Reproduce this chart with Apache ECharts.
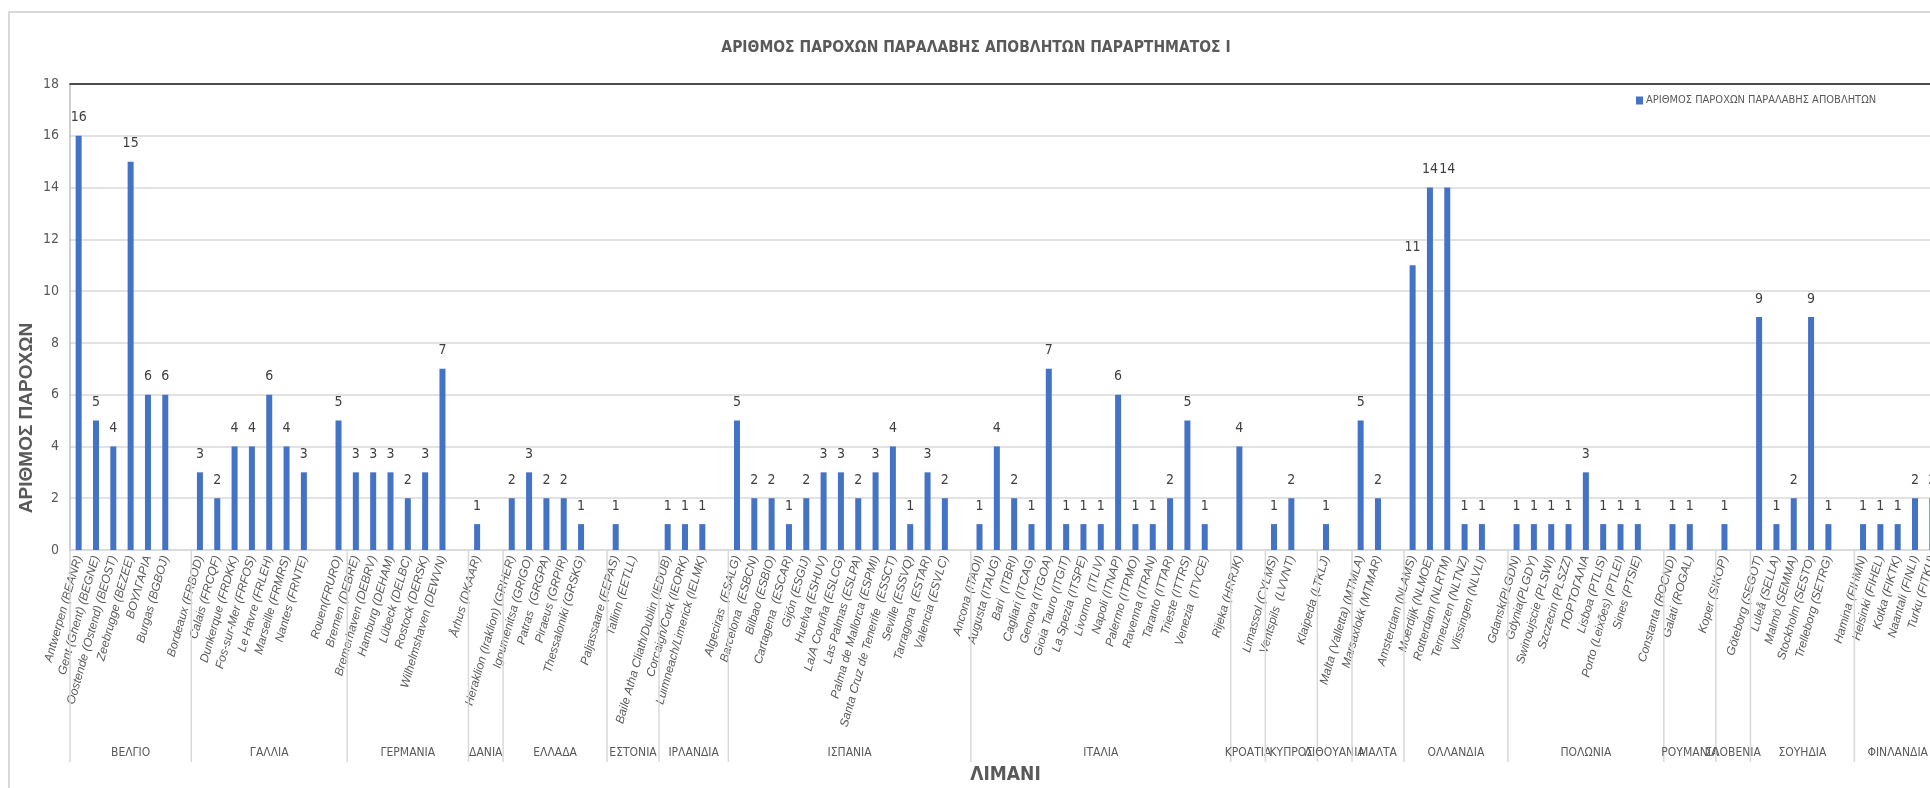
<!DOCTYPE html>
<html>
<head>
<meta charset="utf-8">
<script src="https://cdn.jsdelivr.net/npm/echarts@6/dist/echarts.min.js"></script>
<style>
  html, body { margin: 0; background: #fff; }
  #chart { width: 1930px; height: 788px; }
</style>
</head>
<body>
<div id="chart"></div>
<script>
// one slot per port, '' = empty spacer slot closing each country group
const ports = [
  'Antwerpen (BEANR)', 'Gent (Ghent) (BEGNE)', 'Oostende (Ostend) (BEOST)', 'Zeebrugge (BEZEE)', 'ΒΟΥΛΓΑΡΙΑ', 'Burgas (BGBOJ)', '',
  'Bordeaux (FRBOD)', 'Calais (FRCQF)', 'Dunkerque (FRDKK)', 'Fos-sur-Mer (FRFOS)', 'Le Havre (FRLEH)', 'Marseille (FRMRS)', 'Nantes (FRNTE)', '', 'Rouen(FRURO)',
  'Bremen (DEBRE)', 'Bremerhaven (DEBRV)', 'Hamburg (DEHAM)', 'Lübeck (DELBC)', 'Rostock (DERSK)', 'Wilhelmshaven (DEWVN)', '',
  'Århus (DKAAR)', '',
  'Heraklion (Iraklion) (GRHER)', 'Igoumenitsa (GRIGO)', 'Patras  (GRGPA)', 'Piraeus (GRPIR)', 'Thessaloniki (GRSKG)', '',
  'Paljassaare (EEPAS)', 'Tallinn (EETLL)', '',
  'Baile Atha Cliath/Dublin (IEDUB)', 'Corcaigh/Cork (IEORK)', 'Luimneach/Limerick (IELMK)', '',
  'Algeciras  (ESALG)', 'Barcelona  (ESBCN)', 'Bilbao (ESBIO)', 'Cartagena  (ESCAR)', 'Gijón (ESGIJ)', 'Huelva (ESHUV)', 'La/A Coruña (ESLCG)',
  'Las Palmas (ESLPA)', 'Palma de Mallorca (ESPMI)', 'Santa Cruz de Tenerife  (ESSCT)', 'Seville (ESSVQ)', 'Tarragona  (ESTAR)', 'Valencia (ESVLC)', '',
  'Ancona (ITAOI)', 'Augusta (ITAUG)', 'Bari  (ITBRI)', 'Cagliari (ITCAG)', 'Genova (ITGOA)', 'Gioia Tauro (ITGIT)', 'La Spezia (ITSPE)',
  'Livorno  (ITLIV)', 'Napoli (ITNAP)', 'Palermo (ITPMO)', 'Ravenna (ITRAN)', 'Taranto (ITTAR)', 'Trieste (ITTRS)', 'Venezia  (ITVCE)', '',
  'Rijeka (HRRJK)', '',
  'Limassol (CYLMS)', 'Ventspils  (LVVNT)', '',
  'Klaipeda (LTKLJ)', '',
  'Malta (Valletta) (MTMLA)', 'Marsaxlokk (MTMAR)', '',
  'Amsterdam (NLAMS)', 'Moerdijk (NLMOE)', 'Rotterdam (NLRTM)', 'Terneuzen (NLTNZ)', 'Vlissingen (NLVLI)', '',
  'Gdansk(PLGDN)', 'Gdynia(PLGDY)', 'Swinoujscie (PLSWI)', 'Szczecin (PLSZZ)', 'ΠΟΡΤΟΓΑΛΙΑ', 'Lisboa (PTLIS)', 'Porto (Leixões) (PTLEI)', 'Sines (PTSIE)', '',
  'Constanta (ROCND)', 'Galati (ROGAL)', '',
  'Koper (SIKOP)', '',
  'Göteborg (SEGOT)', 'Luleå (SELLA)', 'Malmö (SEMMA)', 'Stockholm (SESTO)', 'Trelleborg (SETRG)', '',
  'Hamina (FIHMN)', 'Helsinki (FIHEL)', 'Kotka (FIKTK)', 'Naantali (FINLI)', 'Turku (FITKU)'
]

const counts = [
  16, 5, 4, 15, 6, 6, null,
  3, 2, 4, 4, 6, 4, 3, null, 5,
  3, 3, 3, 2, 3, 7, null,
  1, null,
  2, 3, 2, 2, 1, null,
  1, null, null,
  1, 1, 1, null,
  5, 2, 2, 1, 2, 3, 3, 2, 3, 4, 1, 3, 2, null,
  1, 4, 2, 1, 7, 1, 1, 1, 6, 1, 1, 2, 5, 1, null,
  4, null,
  1, 2, null,
  1, null,
  5, 2, null,
  11, 14, 14, 1, 1, null,
  1, 1, 1, 1, 3, 1, 1, 1, null,
  1, 1, null,
  1, null,
  9, 1, 2, 9, 1, null,
  1, 1, 1, 2, 2
]

const groupNames = [
  'ΒΕΛΓΙΟ', 'ΓΑΛΛΙΑ', 'ΓΕΡΜΑΝΙΑ', 'ΔΑΝΙΑ', 'ΕΛΛΑΔΑ', 'ΕΣΤΟΝΙΑ', 'ΙΡΛΑΝΔΙΑ', 'ΙΣΠΑΝΙΑ', 'ΙΤΑΛΙΑ', 'ΚΡΟΑΤΙΑ',
  'ΚΥΠΡΟΣ', 'ΛΙΘΟΥΑΝΙΑ', 'ΜΑΛΤΑ', 'ΟΛΛΑΝΔΙΑ', 'ΠΟΛΩΝΙΑ', 'ΡΟΥΜΑΝΙΑ', 'ΣΛΟΒΕΝΙΑ', 'ΣΟΥΗΔΙΑ', 'ΦΙΝΛΑΝΔΙΑ'
]
const groupSizes = [7, 9, 7, 2, 6, 3, 4, 14, 15, 2, 3, 2, 3, 6, 9, 3, 2, 6, 5]

const seriesName = 'ΑΡΙΘΜΟΣ ΠΑΡΟΧΩΝ ΠΑΡΑΛΑΒΗΣ ΑΠΟΒΛΗΤΩΝ'

const narrow = '"Liberation Sans Narrow", "DejaVu Sans Condensed", "Liberation Sans", sans-serif'

// [start slot, end slot, group index]
const groupData = []
let acc = 0
groupSizes.forEach((n, i) => { groupData.push([acc, acc + n, i]); acc += n })

const chart = echarts.init(document.getElementById('chart'))
chart.setOption({
  animation: false,
  title: {
    text: 'ΑΡΙΘΜΟΣ ΠΑΡΟΧΩΝ ΠΑΡΑΛΑΒΗΣ ΑΠΟΒΛΗΤΩΝ ΠΑΡΑΡΤΗΜΑΤΟΣ Ι',
    left: 971, top: 35, textAlign: 'center',
    textStyle: { color: '#595959', fontFamily: narrow, fontSize: 15.5, fontWeight: 'bold' }
  },
  legend: {
    data: [seriesName],
    left: 1631, top: 90,
    icon: 'rect', itemWidth: 7, itemHeight: 8, itemGap: 4,
    textStyle: { color: '#595959', fontFamily: narrow, fontSize: 11, padding: [0, 0, 0, -2] }
  },
  graphic: [
    { type: 'rect', shape: { x: 9, y: 12, width: 2400, height: 2000 }, style: { fill: 'none', stroke: '#d9d9d9', lineWidth: 2 }, silent: true, z: -10 },
    {
      type: 'text', x: 27, y: 418, rotation: Math.PI / 2,
      style: { text: 'ΑΡΙΘΜΟΣ ΠΑΡΟΧΩΝ', fill: '#595959', font: 'bold 19px "Liberation Sans", sans-serif', align: 'center', verticalAlign: 'middle' }
    }
  ],
  grid: { left: 70, right: -11, top: 84, bottom: 238, outerBoundsMode: 'none' },
  xAxis: [
    {
      type: 'category', data: ports,
      axisLine: { lineStyle: { color: '#d9d9d9', width: 1.5 } },
      axisTick: { show: false },
      axisLabel: {
        interval: 0, rotate: 74, margin: 6,
        color: '#595959', fontSize: 12, fontStyle: 'italic', fontFamily: '"Liberation Sans", sans-serif'
      },
      name: 'ΛΙΜΑΝΙ', nameLocation: 'middle', nameGap: 216,
      nameTextStyle: { color: '#595959', fontFamily: narrow, fontSize: 19, fontWeight: 'bold' }
    },
    { type: 'value', min: 0, max: ports.length, show: false },
    {
      // dark frame line along the top of the plot
      type: 'category', data: ports, position: 'top',
      axisLine: { lineStyle: { color: '#1a1a1a', width: 1.5 } },
      axisTick: { show: false }, axisLabel: { show: false }
    }
  ],
  yAxis: {
    type: 'value', min: 0, max: 18, interval: 2,
    axisLine: { show: true, lineStyle: { color: '#bfbfbf', width: 1.5 } },
    axisTick: { show: false },
    axisLabel: { color: '#595959', fontFamily: narrow, fontSize: 14, margin: 11 },
    splitLine: { lineStyle: { color: '#d9d9d9', width: 1.5 } }
  },
  series: [
    {
      name: seriesName, type: 'bar', data: counts, barWidth: 6,
      itemStyle: { color: '#4472C4' },
      label: { show: true, position: 'top', distance: 11, color: '#404040', fontFamily: narrow, fontSize: 14 }
    },
    {
      // country group dividers and names under the port labels
      type: 'custom', xAxisIndex: 1, yAxisIndex: 0, silent: true, clip: false,
      encode: { x: [0, 1] },
      data: groupData,
      renderItem(params, api) {
        const a = api.coord([api.value(0), 0])
        const b = api.coord([api.value(1), 0])
        return {
          type: 'group',
          children: [
            { type: 'line', shape: { x1: a[0], y1: a[1], x2: a[0], y2: a[1] + 212 }, style: { stroke: '#d9d9d9', lineWidth: 1.5 } },
            {
              type: 'text', x: (a[0] + b[0]) / 2, y: a[1] + 203,
              style: { text: groupNames[api.value(2)], fill: '#595959', font: '12px ' + narrow, align: 'center', verticalAlign: 'middle' }
            }
          ]
        }
      }
    }
  ]
})
</script>
</body>
</html>
